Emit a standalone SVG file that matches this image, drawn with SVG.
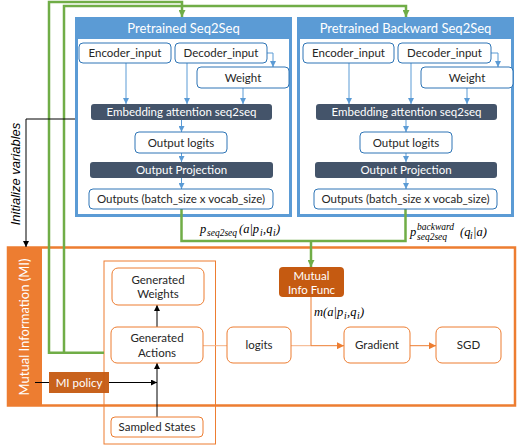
<svg xmlns="http://www.w3.org/2000/svg" width="517" height="445" viewBox="0 0 517 445">
<defs>
<style>
.t{font-family:Lato,"Open Sans","Liberation Sans",sans-serif;font-size:11.5px;fill:#262626;text-anchor:middle}
.tw{font-family:Lato,"Open Sans","Liberation Sans",sans-serif;fill:#ffffff;text-anchor:middle}
.bn{fill:#ffffff;stroke:#2e75b6;stroke-width:1}
.dk{fill:#44546a;stroke:none}
.on{fill:#ffffff;stroke:#ed7d31;stroke-width:1}
.of{fill:#c55a11;stroke:none}
.bl{stroke:#5b9bd5;stroke-width:1;fill:none}
.gr{stroke:#70ad47;stroke-width:2.5;fill:none}
.ok{stroke:#000000;stroke-width:1;fill:none}
.or{stroke:#ed7d31;stroke-width:1;fill:none}
.m{font-family:"Liberation Serif","DejaVu Serif",serif;font-style:italic;font-size:12.5px;fill:#000}
.ms{font-family:"Liberation Serif","DejaVu Serif",serif;font-style:italic;font-size:9.5px;fill:#000}
</style>
<marker id="ab" viewBox="0 0 6 6" refX="6" refY="3" markerWidth="6" markerHeight="6" orient="auto" markerUnits="userSpaceOnUse"><path d="M0,0 L6,3 L0,6 z" fill="#5b9bd5"/></marker>
<marker id="ag" viewBox="0 0 6 6" refX="6" refY="3" markerWidth="7" markerHeight="7" orient="auto" markerUnits="userSpaceOnUse"><path d="M0,0 L6,3 L0,6 z" fill="#70ad47"/></marker>
<marker id="ak" viewBox="0 0 6 6" refX="6" refY="3" markerWidth="6" markerHeight="6" orient="auto" markerUnits="userSpaceOnUse"><path d="M0,0 L6,3 L0,6 z" fill="#000"/></marker>
<marker id="ao" viewBox="0 0 6 6" refX="6" refY="3" markerWidth="7" markerHeight="7" orient="auto" markerUnits="userSpaceOnUse"><path d="M0,0 L6,3 L0,6 z" fill="#ed7d31"/></marker>
</defs>
<rect width="517" height="445" fill="#ffffff"/>

<g id="mi-container">
<rect x="8" y="247.5" width="507" height="158" fill="#ffffff" stroke="#ed7d31" stroke-width="2.5"/>
<rect x="8" y="247.5" width="34" height="158" fill="#ed7d31"/>
<text class="tw" font-size="13" transform="translate(29,327) rotate(-90)">Mutual Information (MI)</text>
<rect x="104" y="261" width="111.5" height="183" fill="none" stroke="#ed7d31" stroke-width="1"/>
</g>

<g id="seq2seq">
<rect x="75" y="17" width="217" height="200" fill="#5b9bd5"/>
<rect x="78" y="39" width="211" height="175" fill="#ffffff"/>
<text class="tw" font-size="13" x="183.5" y="33">Pretrained Seq2Seq</text>
</g>
<g id="backward-seq2seq">
<rect x="297" y="17" width="217" height="200" fill="#5b9bd5"/>
<rect x="300" y="39" width="211" height="175" fill="#ffffff"/>
<text class="tw" font-size="13" x="405.5" y="33">Pretrained Backward Seq2Seq</text>
</g>

<g id="connectors">
<path class="bl" d="M126,63 V104" marker-end="url(#ab)"/>
<path class="bl" d="M187,63 V104" marker-end="url(#ab)"/>
<path class="bl" d="M243,88 V104" marker-end="url(#ab)"/>
<path class="bl" d="M267,53 H273 V67" marker-end="url(#ab)"/>
<path class="bl" d="M181.5,120 V132" marker-end="url(#ab)"/>
<path class="bl" d="M181.5,153 V162" marker-end="url(#ab)"/>
<path class="bl" d="M181.5,178 V189" marker-end="url(#ab)"/>
<path class="bl" d="M349,63 V104" marker-end="url(#ab)"/>
<path class="bl" d="M411,63 V104" marker-end="url(#ab)"/>
<path class="bl" d="M467,88 V104" marker-end="url(#ab)"/>
<path class="bl" d="M491,53 H498 V67" marker-end="url(#ab)"/>
<path class="bl" d="M406,120 V132" marker-end="url(#ab)"/>
<path class="bl" d="M406,153 V162" marker-end="url(#ab)"/>
<path class="bl" d="M406,178 V189" marker-end="url(#ab)"/>
<path class="gr" d="M104,352.7 H49 V2 H182 V17" marker-end="url(#ag)"/>
<path class="gr" d="M64,352.7 V6 H406 V17" marker-end="url(#ag)"/>
<path class="gr" d="M181.5,209 V241 H405.5 V209"/>
<path class="gr" d="M311,241 V267" marker-end="url(#ag)"/>
<path class="ok" d="M75,119 H26 V247" marker-end="url(#ak)"/>
<path class="ok" d="M35,382.5 H49"/>
<path class="ok" d="M109,382.5 H157" marker-end="url(#ak)"/>
<path class="ok" d="M157,417 V363" marker-end="url(#ak)"/>
<path class="ok" d="M157,327 V305" marker-end="url(#ak)"/>
<path d="M203,345.7 H227" stroke="#f4b183" stroke-width="1" fill="none"/>
<path d="M291,345.7 H311" stroke="#f4b183" stroke-width="1" fill="none"/>
<path class="or" d="M311,297 V345.7 H344" marker-end="url(#ao)"/>
<path class="or" d="M410,345.7 H436" marker-end="url(#ao)"/>
</g>

<g id="l-encoder"><rect class="bn" x="79" y="43" width="92" height="20" rx="4"/><text class="t" x="125" y="57">Encoder_input</text></g>
<g id="l-decoder"><rect class="bn" x="175" y="43" width="92" height="20" rx="4"/><text class="t" x="221" y="57">Decoder_input</text></g>
<g id="l-weight"><rect class="bn" x="197" y="67" width="92" height="21" rx="4"/><text class="t" x="243" y="81.5">Weight</text></g>
<g id="l-embed"><rect class="dk" x="91" y="104" width="181" height="16" rx="3"/><text class="tw" font-size="11.5" x="181.5" y="116">Embedding attention seq2seq</text></g>
<g id="l-logits"><rect class="bn" x="135" y="132" width="92" height="21" rx="4"/><text class="t" x="181" y="146.5">Output logits</text></g>
<g id="l-proj"><rect class="dk" x="90" y="162" width="183" height="16" rx="3"/><text class="tw" font-size="11.5" x="181.5" y="174">Output Projection</text></g>
<g id="l-outputs"><rect class="bn" x="89" y="189" width="184" height="20" rx="4"/><text class="t" x="181" y="203">Outputs (batch_size x vocab_size)</text></g>

<g id="r-encoder"><rect class="bn" x="303" y="43" width="91" height="20" rx="4"/><text class="t" x="348.5" y="57">Encoder_input</text></g>
<g id="r-decoder"><rect class="bn" x="398" y="43" width="93" height="20" rx="4"/><text class="t" x="444.5" y="57">Decoder_input</text></g>
<g id="r-weight"><rect class="bn" x="421" y="67" width="92" height="21" rx="4"/><text class="t" x="467" y="81.5">Weight</text></g>
<g id="r-embed"><rect class="dk" x="316" y="104" width="181" height="16" rx="3"/><text class="tw" font-size="11.5" x="406.5" y="116">Embedding attention seq2seq</text></g>
<g id="r-logits"><rect class="bn" x="360" y="132" width="92" height="21" rx="4"/><text class="t" x="406" y="146.5">Output logits</text></g>
<g id="r-proj"><rect class="dk" x="315" y="162" width="182" height="16" rx="3"/><text class="tw" font-size="11.5" x="406" y="174">Output Projection</text></g>
<g id="r-outputs"><rect class="bn" x="314" y="189" width="183" height="20" rx="4"/><text class="t" x="405.5" y="203">Outputs (batch_size x vocab_size)</text></g>

<g id="gen-weights"><rect class="on" x="112" y="268" width="92" height="37" rx="6"/><text class="t" x="158" y="283.5">Generated</text><text class="t" x="158" y="298">Weights</text></g>
<g id="gen-actions"><rect class="on" x="111" y="327" width="92" height="36" rx="6"/><text class="t" x="157" y="342">Generated</text><text class="t" x="157" y="356.5">Actions</text></g>
<g id="sampled-states"><rect class="on" x="111" y="417" width="92" height="20" rx="4"/><text class="t" x="157" y="431">Sampled States</text></g>
<g id="logits"><rect class="on" x="227" y="327" width="64" height="36" rx="6"/><text class="t" x="259" y="349">logits</text></g>
<g id="gradient"><rect class="on" x="344" y="327" width="66" height="36" rx="6"/><text class="t" x="377" y="349">Gradient</text></g>
<g id="sgd"><rect class="on" x="436" y="327" width="65" height="36" rx="6"/><text class="t" x="468.5" y="349">SGD</text></g>
<g id="mi-func"><rect class="of" x="279" y="267" width="65" height="30" rx="4"/><text class="tw" font-size="11.5" x="311.5" y="280">Mutual</text><text class="tw" font-size="11.5" x="311.5" y="294">Info Func</text></g>
<g id="mi-policy"><rect class="of" x="49" y="372" width="60" height="21" opacity="0.95"/><text class="tw" font-size="11.5" x="79" y="386.5">MI policy</text></g>

<g id="labels">
<text font-family="Liberation Sans, Arial, sans-serif" font-style="italic" font-size="13" fill="#000" text-anchor="middle" transform="translate(20,174) rotate(-90)">Initialize variables</text>
<text class="m" x="200" y="233">p</text><text class="ms" x="207" y="236">seq2seq</text><text class="m" x="239" y="233">(a|p</text><text class="ms" x="260" y="236">i</text><text class="m" x="263" y="233">,q</text><text class="ms" x="273" y="236">i</text><text class="m" x="276" y="233">)</text>
<text class="m" x="410" y="236">p</text><text class="ms" x="417" y="230" font-size="10">backward</text><text class="ms" x="417" y="240">seq2seq</text><text class="m" x="460" y="236">(q</text><text class="ms" x="470" y="239">i</text><text class="m" x="473" y="236">|a)</text>
<text class="m" x="314" y="316">m(a|p</text><text class="ms" x="344" y="319">i</text><text class="m" x="347" y="316">,q</text><text class="ms" x="357" y="319">i</text><text class="m" x="360" y="316">)</text>
</g>
</svg>
